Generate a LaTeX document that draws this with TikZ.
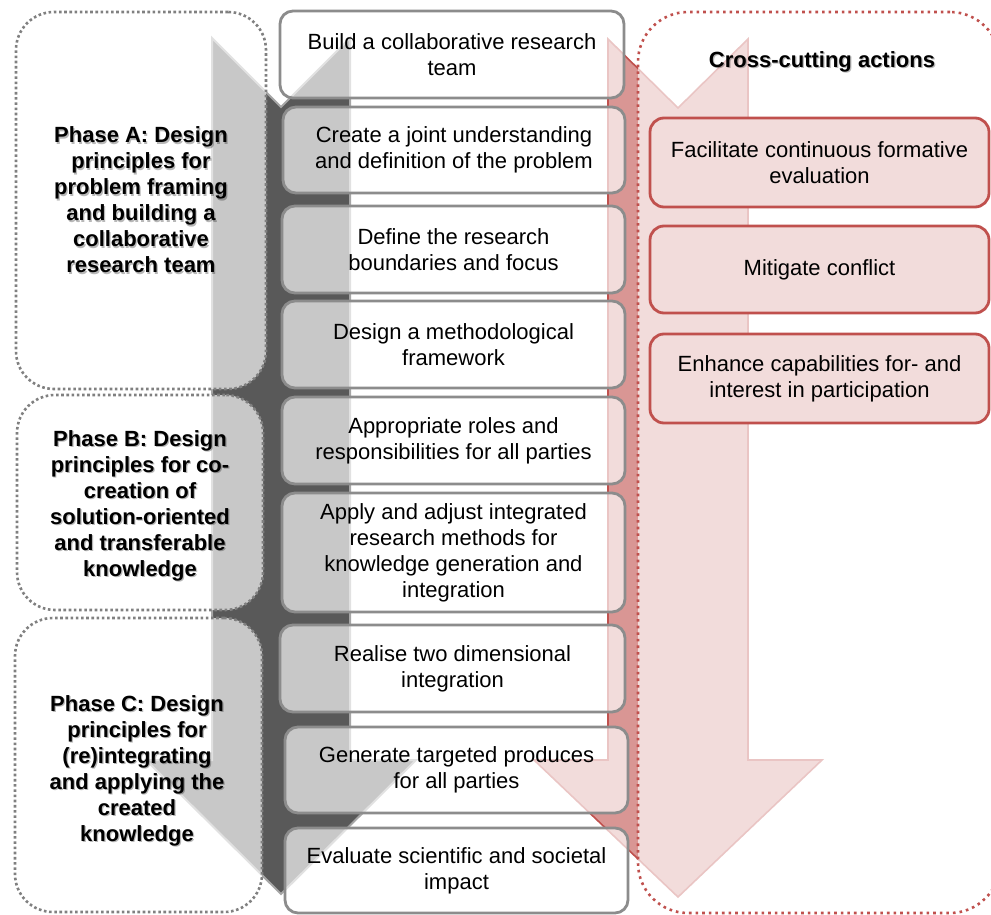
\documentclass[tikz,border=0pt]{standalone}
\usepackage{fontspec}
\setmainfont{Liberation Sans}
\definecolor{accentred}{HTML}{C0504D}
\definecolor{arrowred}{HTML}{D99694}
\definecolor{palered}{HTML}{F2DCDB}
\definecolor{arrowgrey}{HTML}{595959}
\definecolor{edgegrey}{HTML}{A6A6A6}
\definecolor{boxgrey}{HTML}{8C8C8C}
\definecolor{dotgrey}{HTML}{808080}
\begin{document}
\begin{tikzpicture}[x=1pt,y=-1pt,
  greyarrow/.style={fill=arrowgrey, draw=edgegrey, line width=2pt, line join=miter},
  redarrow/.style={fill=arrowred, draw=accentred, line width=1.6pt, line join=miter},
  veil/.style={fill=white, fill opacity=0.67, text opacity=1},
  phasebox/.style={veil, draw=dotgrey, line width=2.6pt, dash pattern=on 2.6pt off 2.6pt, rounded corners=38pt, inner sep=0pt, outer sep=0pt},
  crossbox/.style={veil, draw=accentred, line width=2.6pt, dash pattern=on 2.6pt off 4pt, rounded corners=50pt, inner sep=0pt, outer sep=0pt},
  stepbox/.style={veil, draw=boxgrey, line width=2.8pt, rounded corners=13pt, inner sep=0pt, outer sep=0pt, align=center, font=\fontsize{22}{26}\selectfont},
  actbox/.style={fill=palered, draw=accentred, line width=2.8pt, rounded corners=14pt, inner sep=0pt, outer sep=0pt, align=center, font=\fontsize{22}{26}\selectfont},
  phaselabel/.style={align=center, font=\bfseries\fontsize{22}{26}\selectfont, inner sep=0pt},
  labelshade/.style={phaselabel, text=black, opacity=0.28}
]
\useasboundingbox (0,0) rectangle (991,915);
\fill[white] (0,0) rectangle (991,915);
\clip (0,0) rectangle (991,915);

% the two notched downward arrows
\draw[greyarrow] (212,38) -- (281,107) -- (350,38) -- (350,760) -- (416,760)
  -- (281,894) -- (146,760) -- (212,760) -- cycle;
\draw[redarrow] (608,39) -- (678,108) -- (748,39) -- (748,760) -- (822,760)
  -- (678,897) -- (534,760) -- (608,760) -- cycle;

% dotted phase frames
\node[phasebox, minimum width=250pt, minimum height=377pt] (pa) at (141,200.5) {};
\node[phasebox, minimum width=246pt, minimum height=215pt] (pb) at (140,502.5) {};
\node[phasebox, minimum width=247pt, minimum height=294pt] (pc) at (138.5,765) {};
\node[crossbox, minimum width=362pt, minimum height=901pt] (cc) at (819,462.5) {};

% phase labels
\node[labelshade] (las) at (142.2,201.2) {Phase A: Design\\principles for\\problem framing\\and building a\\collaborative\\research team};
\node[phaselabel] (la) at (141,200) {Phase A: Design\\principles for\\problem framing\\and building a\\collaborative\\research team};
\node[labelshade] (lbs) at (141.2,507.2) {Phase B: Design\\principles for co-\\creation of\\solution-oriented\\and transferable\\knowledge};
\node[phaselabel] (lb) at (140,506) {Phase B: Design\\principles for co-\\creation of\\solution-oriented\\and transferable\\knowledge};
\node[labelshade] (lcs) at (138.2,772.2) {Phase C: Design\\principles for\\(re)integrating\\and applying the\\created\\knowledge};
\node[phaselabel] (lc) at (137,771) {Phase C: Design\\principles for\\(re)integrating\\and applying the\\created\\knowledge};

% steps
\node[stepbox, minimum width=344pt, minimum height=87pt] (s1) at (452,54.5) {Build a collaborative research\\team};
\node[stepbox, minimum width=342pt, minimum height=86pt] (s2) at (454,150) {Create a joint understanding\\and definition of the problem};
\node[stepbox, minimum width=343pt, minimum height=87pt] (s3) at (453.5,249.5) {Define the research\\boundaries and focus};
\node[stepbox, minimum width=343pt, minimum height=87pt] (s4) at (453.5,344.5) {Design a methodological\\framework};
\node[stepbox, minimum width=343pt, minimum height=87pt] (s5) at (453.5,440.5) {Appropriate roles and\\responsibilities for all parties};
\node[stepbox, minimum width=343pt, minimum height=119pt] (s6) at (453.5,552.5) {Apply and adjust integrated\\research methods for\\knowledge generation and\\integration};
\node[stepbox, minimum width=345pt, minimum height=87pt] (s7) at (452.5,668.5) {Realise two dimensional\\integration};
\node[stepbox, minimum width=343pt, minimum height=86pt] (s8) at (456.5,770) {Generate targeted produces\\for all parties};
\node[stepbox, minimum width=343pt, minimum height=85pt] (s9) at (456.5,870.5) {Evaluate scientific and societal\\impact};

% cross-cutting actions
\node[labelshade] (cts) at (823.2,63.2) {Cross-cutting actions};
\node[phaselabel] (ct) at (822,62) {Cross-cutting actions};
\node[actbox, minimum width=339pt, minimum height=89pt] (a1) at (819.5,162.5) {Facilitate continuous formative\\evaluation};
\node[actbox, minimum width=339pt, minimum height=87pt] (a2) at (819.5,269.5) {Mitigate conflict};
\node[actbox, minimum width=339pt, minimum height=89pt] (a3) at (819.5,378.5) {Enhance capabilities for- and\\interest in participation};
\end{tikzpicture}
\end{document}
